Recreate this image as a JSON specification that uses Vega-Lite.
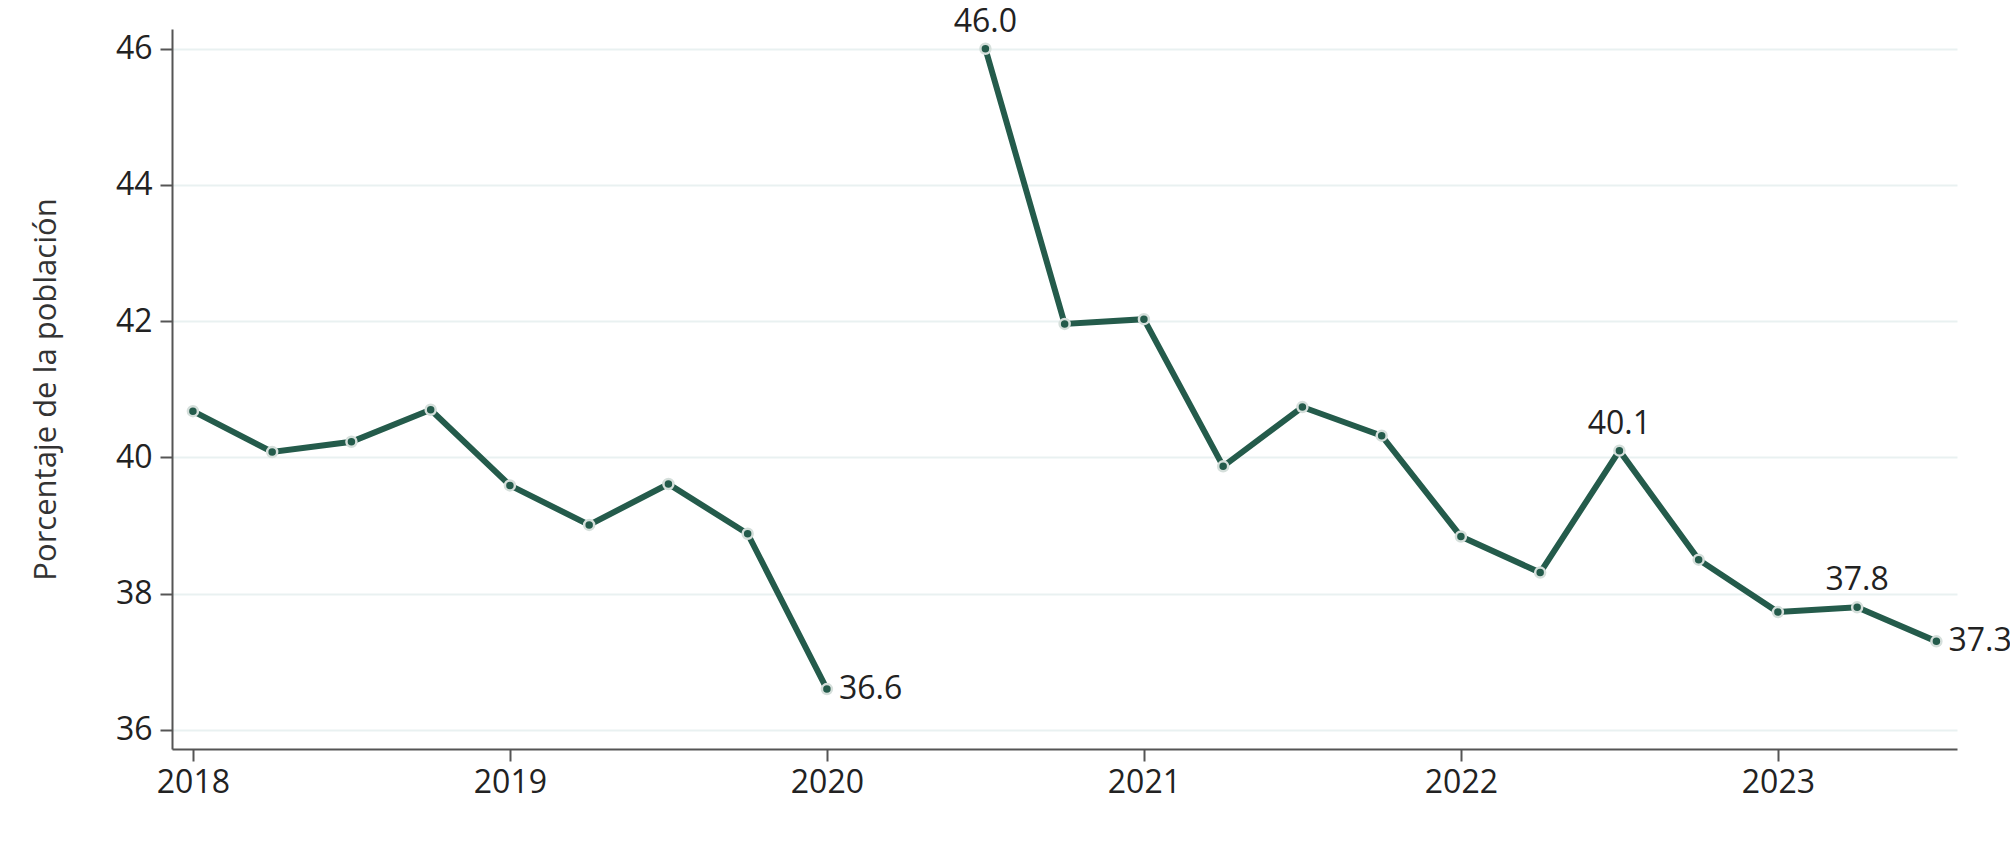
{
  "$schema": "https://vega.github.io/schema/vega-lite/v6.json",
  "width": 1785,
  "height": 720,
  "autosize": {"type": "none"},
  "padding": {"left": 172, "top": 29, "right": 53, "bottom": 116},
  "background": "white",
  "config": {
    "view": {"stroke": null},
    "font": "Open Sans",
    "axis": {
      "labelFont": "Open Sans",
      "titleFont": "Open Sans",
      "labelColor": "#222222",
      "titleColor": "#333333",
      "domainColor": "#555555",
      "domainWidth": 2,
      "tickColor": "#555555",
      "tickWidth": 2,
      "tickSize": 12,
      "gridColor": "#e9f1f1",
      "gridWidth": 2
    }
  },
  "data": {
    "values": [
      {"periodo": 2018.0, "valor": 40.68, "tramo": "a", "etiqueta": null, "pos": null},
      {"periodo": 2018.25, "valor": 40.08, "tramo": "a", "etiqueta": null, "pos": null},
      {"periodo": 2018.5, "valor": 40.23, "tramo": "a", "etiqueta": null, "pos": null},
      {"periodo": 2018.75, "valor": 40.7, "tramo": "a", "etiqueta": null, "pos": null},
      {"periodo": 2019.0, "valor": 39.59, "tramo": "a", "etiqueta": null, "pos": null},
      {"periodo": 2019.25, "valor": 39.01, "tramo": "a", "etiqueta": null, "pos": null},
      {"periodo": 2019.5, "valor": 39.61, "tramo": "a", "etiqueta": null, "pos": null},
      {"periodo": 2019.75, "valor": 38.88, "tramo": "a", "etiqueta": null, "pos": null},
      {"periodo": 2020.0, "valor": 36.6, "tramo": "a", "etiqueta": "36.6", "pos": "derecha"},
      {"periodo": 2020.5, "valor": 46.0, "tramo": "b", "etiqueta": "46.0", "pos": "arriba"},
      {"periodo": 2020.75, "valor": 41.96, "tramo": "b", "etiqueta": null, "pos": null},
      {"periodo": 2021.0, "valor": 42.03, "tramo": "b", "etiqueta": null, "pos": null},
      {"periodo": 2021.25, "valor": 39.87, "tramo": "b", "etiqueta": null, "pos": null},
      {"periodo": 2021.5, "valor": 40.74, "tramo": "b", "etiqueta": null, "pos": null},
      {"periodo": 2021.75, "valor": 40.32, "tramo": "b", "etiqueta": null, "pos": null},
      {"periodo": 2022.0, "valor": 38.84, "tramo": "b", "etiqueta": null, "pos": null},
      {"periodo": 2022.25, "valor": 38.31, "tramo": "b", "etiqueta": null, "pos": null},
      {"periodo": 2022.5, "valor": 40.1, "tramo": "b", "etiqueta": "40.1", "pos": "arriba"},
      {"periodo": 2022.75, "valor": 38.5, "tramo": "b", "etiqueta": null, "pos": null},
      {"periodo": 2023.0, "valor": 37.73, "tramo": "b", "etiqueta": null, "pos": null},
      {"periodo": 2023.25, "valor": 37.8, "tramo": "b", "etiqueta": "37.8", "pos": "arriba"},
      {"periodo": 2023.5, "valor": 37.3, "tramo": "b", "etiqueta": "37.3", "pos": "derecha"}
    ]
  },
  "encoding": {
    "x": {
      "field": "periodo",
      "type": "quantitative",
      "scale": {"domain": [2017.934, 2023.565], "nice": false, "zero": false},
      "axis": {
        "title": null,
        "values": [2018, 2019, 2020, 2021, 2022, 2023],
        "format": "d",
        "grid": false,
        "labelFontSize": 32,
        "labelPadding": 6
      }
    },
    "y": {
      "field": "valor",
      "type": "quantitative",
      "scale": {"domain": [35.72, 46.29], "nice": false, "zero": false},
      "axis": {
        "title": "Porcentaje de la población",
        "values": [36, 38, 40, 42, 44, 46],
        "format": "d",
        "labelFontSize": 32,
        "labelPadding": 8,
        "titleFontSize": 31,
        "titleFontWeight": "normal",
        "titleAngle": -90,
        "titleX": -126,
        "titleY": 360,
        "titleAlign": "center",
        "titleBaseline": "middle"
      }
    }
  },
  "layer": [
    {
      "mark": {"type": "line", "color": "#245b4b", "strokeWidth": 6},
      "encoding": {"detail": {"field": "tramo"}}
    },
    {
      "mark": {"type": "point", "filled": true, "fill": "#245b4b", "stroke": "#d5dfdb", "strokeWidth": 2.5, "size": 100, "opacity": 1}
    },
    {
      "transform": [{"filter": "datum.pos === 'arriba'"}],
      "mark": {"type": "text", "fontSize": 32, "color": "#222222", "dy": -27, "baseline": "middle", "align": "center"},
      "encoding": {"text": {"field": "etiqueta"}}
    },
    {
      "transform": [{"filter": "datum.pos === 'derecha'"}],
      "mark": {"type": "text", "fontSize": 32, "color": "#222222", "dx": 12, "baseline": "middle", "align": "left"},
      "encoding": {"text": {"field": "etiqueta"}}
    }
  ]
}
